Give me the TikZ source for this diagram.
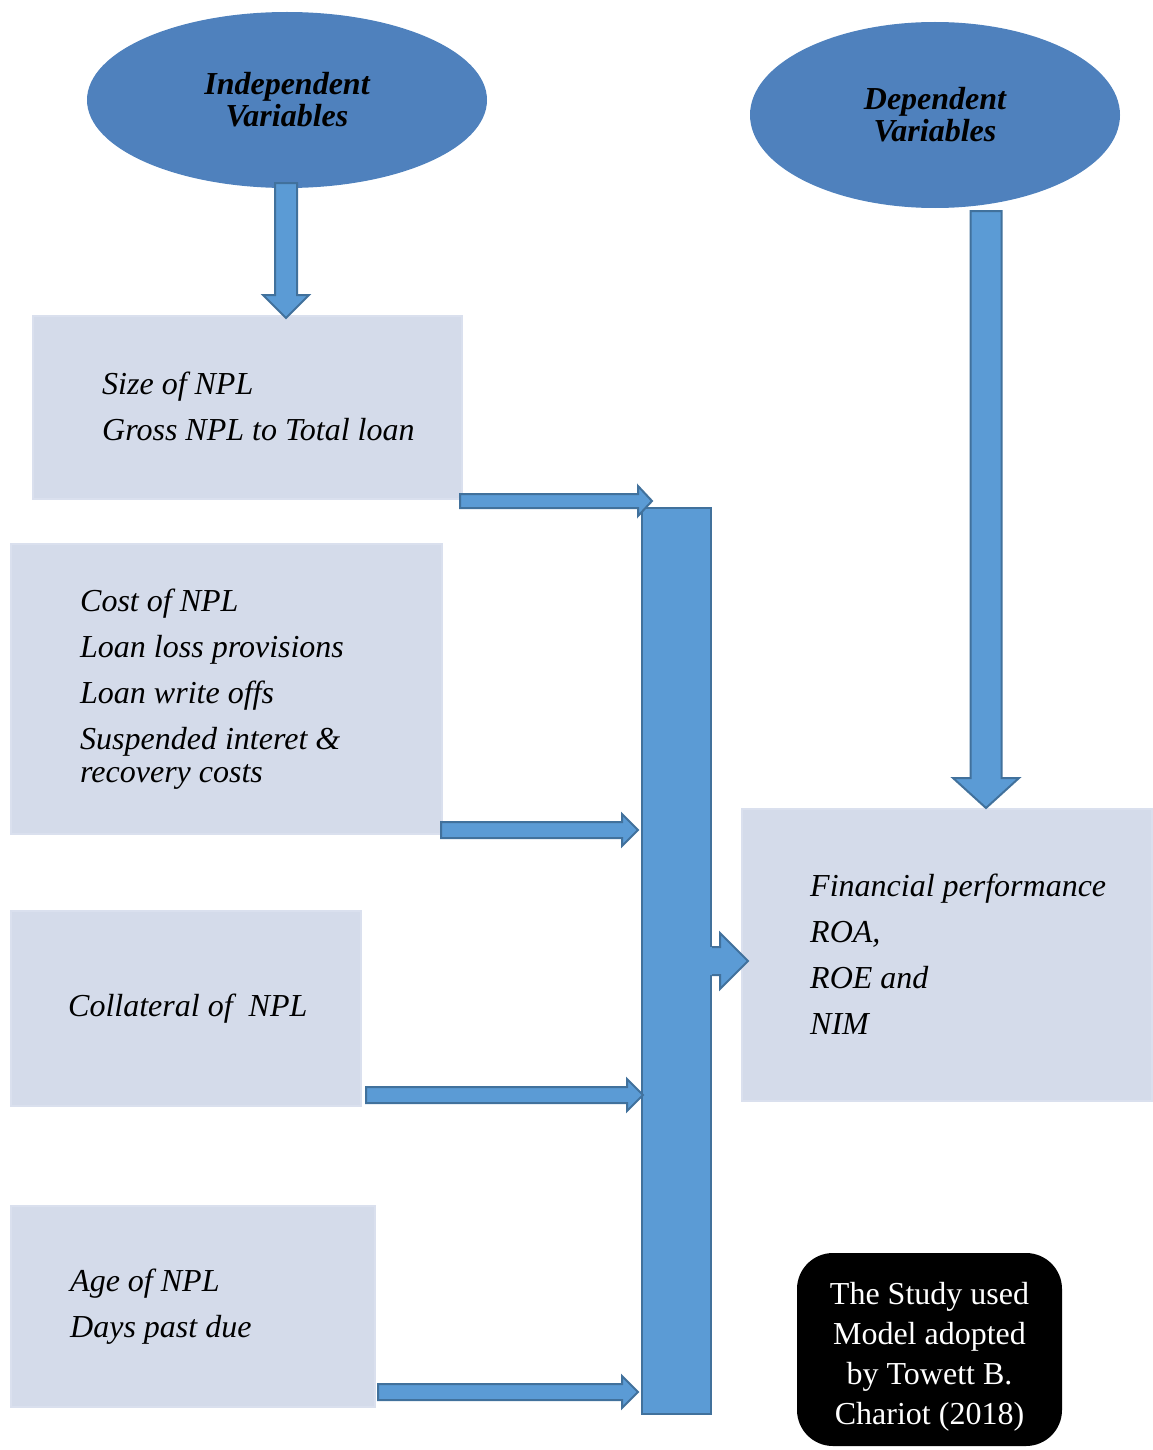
\documentclass[tikz,border=0pt]{standalone}
\usepackage{fontspec}
\setmainfont{Liberation Serif}
\usetikzlibrary{shapes.geometric,calc}
\definecolor{ellblue}{HTML}{4F81BD}
\definecolor{arrfill}{HTML}{5B9BD5}
\definecolor{arrline}{HTML}{41719C}
\definecolor{boxfill}{HTML}{D4DBEA}
\definecolor{boxline}{HTML}{DAE0EE}
% horizontal block arrow: from, to, shaft half, head half, head length
\newcommand\harrowR[5]{%
  \draw[barrow] let \p1=(#1), \p2=(#2) in
   (\x1,\y1+#3) -- (\x2-#5,\y1+#3) -- (\x2-#5,\y1+#4) -- (\x2,\y1)
   -- (\x2-#5,\y1-#4) -- (\x2-#5,\y1-#3) -- (\x1,\y1-#3) -- cycle;}
% vertical block arrow pointing down
\newcommand\varrowD[5]{%
  \draw[barrow] let \p1=(#1), \p2=(#2) in
   (\x1-#3,\y1) -- (\x1-#3,\y2+#5) -- (\x1-#4,\y2+#5) -- (\x1,\y2)
   -- (\x1+#4,\y2+#5) -- (\x1+#3,\y2+#5) -- (\x1+#3,\y1) -- cycle;}
\begin{document}
\begin{tikzpicture}[x=1pt,y=-1pt,
  ell/.style={ellipse, fill=ellblue, inner sep=0pt, align=center,
    font=\fontsize{32}{32}\selectfont\bfseries\itshape},
  box/.style={rectangle, fill=boxfill, draw=boxline, line width=2pt,
    inner sep=0pt, anchor=north west},
  txt/.style={inner sep=0pt, anchor=west, align=left,
    font=\fontsize{32}{46}\selectfont\itshape},
  barrow/.style={fill=arrfill, draw=arrline, line width=2pt, line join=miter},
  bar/.style={rectangle, fill=arrfill, draw=arrline, line width=2pt,
    inner sep=0pt, anchor=north west},
  notebox/.style={rectangle, rounded corners=36pt, fill=black, inner sep=0pt},
  notetxt/.style={inner sep=0pt, text=white, align=center,
    font=\fontsize{32}{40}\selectfont},
]
\useasboundingbox (0,0) rectangle (1152,1450);

% ellipses
\node[ell, minimum width=400pt, minimum height=176pt] (e1) at (287,100)
  {Independent\\Variables};
\node[ell, minimum width=370pt, minimum height=186pt] (e2) at (935,115)
  {Dependent\\Variables};

% boxes
\node[box, minimum width=429pt, minimum height=183pt] (b1) at (32,315) {};
\node[box, minimum width=431pt, minimum height=290pt] (b2) at (10,543) {};
\node[box, minimum width=350pt, minimum height=195pt] (b3) at (10,910) {};
\node[box, minimum width=364pt, minimum height=201pt] (b4) at (10,1205) {};
\node[box, minimum width=410pt, minimum height=292pt] (b5) at (741,808) {};

% box texts
\node[txt] (t1) at ($(b1.west)+(70,-1)$) {Size of NPL\\Gross NPL to Total loan};
\node[txt] (t2) at ($(b2.west)+(70,0)$) {Cost of NPL\\Loan loss provisions\\Loan write offs\\Suspended interet \&\\[-13pt]recovery costs};
\node[txt] (t3) at ($(b3.west)+(58,0)$) {Collateral of\ \ NPL};
\node[txt] (t4) at ($(b4.west)+(60,0)$) {Age of NPL\\Days past due};
\node[txt] (t5) at ($(b5.west)+(69,-1)$) {Financial performance\\ROA,\\ROE and\\NIM};

% vertical bar
\node[bar, minimum width=69pt, minimum height=906pt] (bar) at (641,507) {};

% arrow end points
\coordinate (d1s) at ($(e1.south)+(-1,-5)$);
\coordinate (d1e) at ($(d1s |- b1.north)+(0,3)$);
\coordinate (d2s) at ($(e2.south)+(51,3)$);
\coordinate (d2e) at (d2s |- b5.north);
\coordinate (a1s) at ($(b1.south east)+(-3,1)$);
\coordinate (a1e) at ($(bar.north west)+(11,-7)$);
\coordinate (a2s) at ($(b2.south east)+(-2,-5)$);
\coordinate (a2e) at ($(a2s -| bar.west)+(-3,0)$);
\coordinate (a3s) at ($(b3.south east)+(4,-12)$);
\coordinate (a3e) at ($(a3s -| bar.west)+(2,0)$);
\coordinate (a4s) at ($(b4.south east)+(2,-16)$);
\coordinate (a4e) at ($(a4s -| bar.west)+(-3,0)$);
\coordinate (bas) at ($(bar.east)+(-3,0)$);
\coordinate (bae) at ($(bar.east -| b5.west)+(7,0)$);

% block arrows
\varrowD{d1s}{d1e}{11pt}{23pt}{23pt}
\varrowD{d2s}{d2e}{15.5pt}{33pt}{30pt}
\harrowR{a1s}{a1e}{7pt}{15pt}{14pt}
\harrowR{a2s}{a2e}{8pt}{16pt}{16pt}
\harrowR{a3s}{a3e}{8pt}{16pt}{16pt}
\harrowR{a4s}{a4e}{8pt}{16pt}{16pt}
% bar to result arrow (open at the bar side)
\fill[arrfill] let \p1=(bas), \p2=(bae) in
   (\x1,\y1+14pt) -- (\x2-28pt,\y1+14pt) -- (\x2-28pt,\y1+28pt) -- (\x2,\y1)
   -- (\x2-28pt,\y1-28pt) -- (\x2-28pt,\y1-14pt) -- (\x1,\y1-14pt) -- cycle;
\draw[arrline, line width=2pt, line join=miter] let \p1=(bas), \p2=(bae) in
   ($(bar.east)+(0,-14)$) -- (\x2-28pt,\y1+14pt) -- (\x2-28pt,\y1+28pt) -- (\x2,\y1)
   -- (\x2-28pt,\y1-28pt) -- (\x2-28pt,\y1-14pt) -- ($(bar.east)+(0,14)$);

% note box
\node[notebox, minimum width=265pt, minimum height=193pt] (note) at (929.5,1349.5) {};
\node[notetxt] (notet) at ($(note.center)+(0,7)$)
  {The Study used\\Model adopted\\by Towett B.\\Chariot (2018)};
\end{tikzpicture}
\end{document}
